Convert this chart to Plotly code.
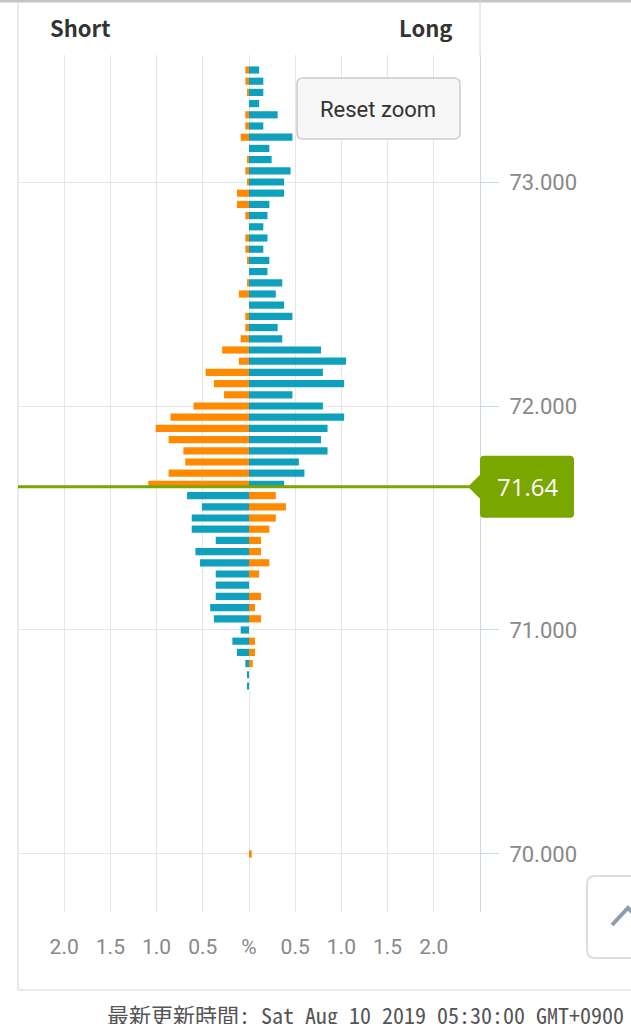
import plotly.graph_objects as go

# price levels (rows of the book), top to bottom
levels = [73.50, 73.45, 73.40, 73.35, 73.30, 73.25, 73.20, 73.15, 73.10, 73.05,
          73.00, 72.95, 72.90, 72.85, 72.80, 72.75, 72.70, 72.65, 72.60, 72.55,
          72.50, 72.45, 72.40, 72.35, 72.30, 72.25, 72.20, 72.15, 72.10, 72.05,
          72.00, 71.95, 71.90, 71.85, 71.80, 71.75, 71.70, 71.65, 71.60, 71.55,
          71.50, 71.45, 71.40, 71.35, 71.30, 71.25, 71.20, 71.15, 71.10, 71.05,
          71.00, 70.95, 70.90, 70.85, 70.80, 70.75, 70.00]

# % of positions per level
long_pct = [0.11, 0.155, 0.155, 0.11, 0.31, 0.155, 0.47, 0.22, 0.245, 0.45,
            0.38, 0.38, 0.22, 0.20, 0.155, 0.20, 0.155, 0.22, 0.20, 0.36,
            0.29, 0.38, 0.47, 0.31, 0.36, 0.78, 1.05, 0.80, 1.03, 0.47,
            0.80, 1.03, 0.85, 0.78, 0.85, 0.54, 0.60, 0.38, 0.67, 0.51,
            0.62, 0.62, 0.36, 0.58, 0.53, 0.36, 0.36, 0.36, 0.42, 0.38,
            0.09, 0.18, 0.13, 0.04, 0.02, 0.02, 0]
short_pct = [0.04, 0.04, 0.02, 0, 0.04, 0.04, 0.09, 0, 0.02, 0.04,
             0.02, 0.13, 0.13, 0.04, 0, 0.04, 0.04, 0.02, 0, 0.02,
             0.11, 0, 0.04, 0.04, 0.09, 0.29, 0.11, 0.47, 0.38, 0.27,
             0.60, 0.85, 1.01, 0.87, 0.71, 0.69, 0.87, 1.09, 0.29, 0.40,
             0.29, 0.22, 0.13, 0.13, 0.22, 0.11, 0, 0.13, 0.065, 0.13,
             0, 0.065, 0.065, 0.04, 0, 0, 0.03]

current_price = 71.64

x_ticks = [-2, -1.5, -1, -0.5, 0, 0.5, 1, 1.5, 2]
x_labels = ["2.0", "1.5", "1.0", "0.5", "%", "0.5", "1.0", "1.5", "2.0"]

BLUE = "#0fa0bd"
ORANGE = "#ff8a00"
GREEN = "#7aa600"

# above the price: long right / short left, below it the sides swap
blue_x = [v if p > current_price else -v for p, v in zip(levels, long_pct)]
orange_x = [-v if p > current_price else v for p, v in zip(levels, short_pct)]

fig = go.Figure()
fig.add_trace(go.Bar(y=levels, x=blue_x, orientation="h", width=0.032,
                     marker=dict(color=BLUE, line=dict(width=0)), hoverinfo="skip"))
fig.add_trace(go.Bar(y=levels, x=orange_x, orientation="h", width=0.032,
                     marker=dict(color=ORANGE, line=dict(width=0)), hoverinfo="skip"))


def rrect(x0, y0, x1, y1, r):
    # page pixels -> offsets from the plot's top-left corner (18, 55), y up
    X = lambda x: x - 18
    Y = lambda y: 55 - y
    return (f"M {X(x0 + r)},{Y(y0)} L {X(x1 - r)},{Y(y0)} Q {X(x1)},{Y(y0)} {X(x1)},{Y(y0 + r)} "
            f"L {X(x1)},{Y(y1 - r)} Q {X(x1)},{Y(y1)} {X(x1 - r)},{Y(y1)} L {X(x0 + r)},{Y(y1)} "
            f"Q {X(x0)},{Y(y1)} {X(x0)},{Y(y1 - r)} L {X(x0)},{Y(y0 + r)} Q {X(x0)},{Y(y0)} {X(x0 + r)},{Y(y0)} Z")


def page_shape(path, **kw):
    return dict(type="path", path=path, xref="paper", yref="paper", xanchor=0, yanchor=1,
                xsizemode="pixel", ysizemode="pixel", **kw)


shapes = [
    # card frame
    page_shape("M 0,55 L 0,-935", line=dict(color="#e3e3e3", width=1.5)),
    page_shape("M 0,-935 L 630,-935", line=dict(color="#e3e3e3", width=1.5)),
    page_shape("M -18,54 L 630,54", line=dict(color="#c4c4c4", width=3)),
    page_shape("M 462,55 L 462,0", line=dict(color="#ccd6eb", width=1)),
    # current price line + label
    dict(type="line", xref="paper", yref="y", x0=0, x1=1, y0=current_price, y1=current_price,
         line=dict(color=GREEN, width=3)),
    dict(type="path", xref="paper", yref="y", xanchor=1, yanchor=current_price,
         xsizemode="pixel", ysizemode="pixel",
         path="M 4,31 L 90,31 Q 94,31 94,27 L 94,-27 Q 94,-31 90,-31 L 4,-31 Q 0,-31 0,-27 "
              "L 0,-12 L -12,0 L 0,12 L 0,27 Q 0,31 4,31 Z",
         fillcolor=GREEN, line=dict(width=0)),
    # reset zoom button
    page_shape(rrect(297, 78, 460, 139, 6), fillcolor="#f7f7f7", line=dict(color="#cccccc", width=1.5)),
    # scroll-top button
    page_shape(rrect(587, 876, 660, 958, 8), fillcolor="#ffffff", line=dict(color="#dddddd", width=2)),
    page_shape("M 594,-870 L 610,-853 L 626,-870", line=dict(color="#8d9eae", width=4)),
]

annotations = [
    dict(text="<b>Short</b>", xref="paper", yref="paper", x=(80 - 18) / 462, y=(912 - 27) / 857,
         xanchor="center", yanchor="middle", showarrow=False,
         font=dict(family="Noto Sans CJK JP", size=22, color="#333333")),
    dict(text="<b>Long</b>", xref="paper", yref="paper", x=(425 - 18) / 462, y=(912 - 27) / 857,
         xanchor="center", yanchor="middle", showarrow=False,
         font=dict(family="Noto Sans CJK JP", size=22, color="#333333")),
    dict(text="Reset zoom", xref="paper", yref="paper", x=(378 - 18) / 462, y=(912 - 109) / 857,
         xanchor="center", yanchor="middle", showarrow=False,
         font=dict(family="Roboto", size=22, color="#333333")),
    dict(text=f"{current_price:.2f}", xref="paper", yref="y", x=1, xshift=47, y=current_price,
         xanchor="center", yanchor="middle", showarrow=False,
         font=dict(family="Open Sans", size=24, color="#ffffff")),
    dict(text="最新更新時間: Sat Aug 10 2019 05:30:00 GMT+0900 (日本標準時)",
         xref="paper", yref="paper", x=(105 - 18) / 462, y=(912 - 996) / 857,
         xanchor="left", yanchor="top", showarrow=False,
         font=dict(family="Noto Sans Mono CJK JP, DejaVu Sans Mono", size=22, color="#555555")),
]

fig.update_layout(
    width=631, height=1024,
    margin=dict(l=18, r=151, t=55, b=112),
    paper_bgcolor="white", plot_bgcolor="white",
    showlegend=False, barmode="overlay",
    shapes=shapes, annotations=annotations,
    xaxis=dict(range=[-2.5, 2.5], tickvals=x_ticks, ticktext=x_labels,
               showgrid=True, gridcolor="#e6e6e6", zeroline=False, showline=False,
               ticks="", ticklabelstandoff=20,
               tickfont=dict(family="Roboto", size=21, color="#888888"), fixedrange=True),
    yaxis=dict(range=[69.741, 73.567], side="right", dtick=1, tickformat=".3f",
               showgrid=True, gridcolor="#e6e6e6", zeroline=False,
               showline=True, linecolor="#ccd6eb", linewidth=1,
               ticks="outside", ticklen=18, tickcolor="#ccd6eb", ticklabelstandoff=6,
               tickfont=dict(family="Roboto", size=22, color="#888888"), fixedrange=True),
)

fig.write_html("out.html", config={"displayModeBar": False},
               post_script="document.body.style.margin='0';document.body.style.overflow='hidden';")
